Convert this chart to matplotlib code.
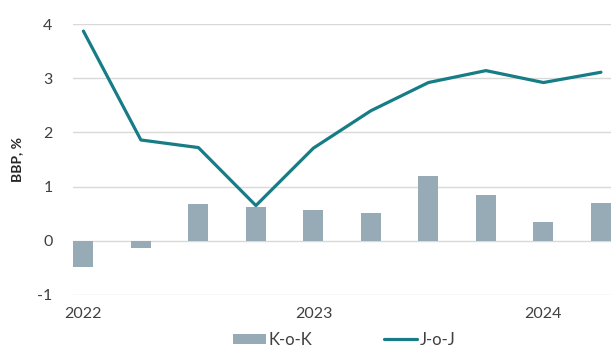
import matplotlib
matplotlib.use("Agg")
import matplotlib.pyplot as plt
import numpy as np

plt.rcParams['font.family'] = ['Lato', 'DejaVu Sans']

quarters = ["Q1 2022", "Q2 2022", "Q3 2022", "Q4 2022", "Q1 2023", "Q2 2023",
            "Q3 2023", "Q4 2023", "Q1 2024", "Q2 2024"]
kok = [-0.49, -0.14, 0.67, 0.63, 0.56, 0.51, 1.20, 0.85, 0.35, 0.70]
joj = [3.87, 1.86, 1.72, 0.65, 1.71, 2.40, 2.92, 3.14, 2.92, 3.11]
year_labels = ["2022", "2023", "2024"]
year_tick_idx = [0, 4, 8]
yticks = [-1, 0, 1, 2, 3, 4]

bar_color = "#97ABB7"
line_color = "#167C86"
text_color = "#404040"

fig = plt.figure(figsize=(6.11, 3.47), dpi=100)
ax = fig.add_axes([0.12, 0.1499, 0.88, 0.7809])

x = np.arange(len(quarters))
bars = ax.bar(x, kok, width=0.35, color=bar_color, label="K-o-K", zorder=2)
line, = ax.plot(x, joj, color=line_color, lw=2.3, solid_capstyle="round",
                solid_joinstyle="round", label="J-o-J", zorder=3)

ax.set_xlim(-0.175, len(quarters) - 1 + 0.175)
ax.set_ylim(-1, 4)
ax.set_yticks(yticks)
ax.set_yticklabels([str(v) for v in yticks])
ax.set_xticks(year_tick_idx)
ax.set_xticklabels(year_labels)
ax.tick_params(axis="both", length=0, labelsize=11.5, colors=text_color)
ax.tick_params(axis="y", pad=15)
ax.tick_params(axis="x", pad=9)
for s in ax.spines.values():
    s.set_visible(False)
ax.grid(axis="y", color="#D9D9D9", lw=1.0, zorder=0)
ax.set_axisbelow(True)

ax.set_ylabel("BBP, %", fontsize=10, fontweight="bold", color="#262626", labelpad=10)

leg = fig.legend([bars, line], ["K-o-K", "J-o-J"], loc="center",
                 bbox_to_anchor=(0.563, 0.02), ncol=2, frameon=False,
                 fontsize=12, handlelength=2.0, handleheight=0.6, columnspacing=4.3,
                 handletextpad=0.15, labelcolor=text_color, borderpad=0.2)

fig.savefig("out.png", dpi=100)
